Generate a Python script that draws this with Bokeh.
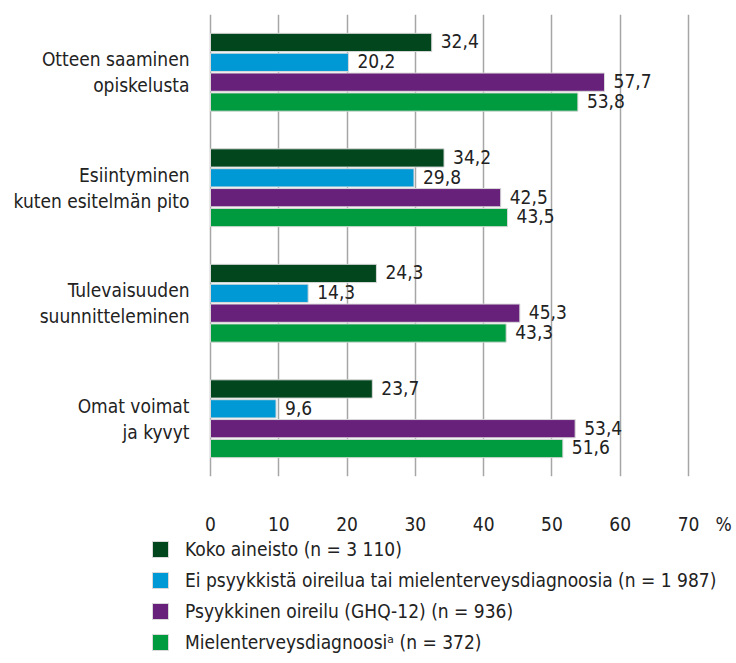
from bokeh.plotting import figure
from bokeh.models import (ColumnDataSource, Legend, LegendItem, FactorRange,
                          FixedTicker, Range1d)
from bokeh.layouts import column
from bokeh.transform import dodge
from bokeh.core.properties import value
from bokeh.embed import file_html
from bokeh.resources import INLINE

categories = ["Otteen saaminen\nopiskelusta",
              "Esiintyminen\nkuten esitelmän pito",
              "Tulevaisuuden\nsuunnitteleminen",
              "Omat voimat\nja kyvyt"]
series_names = ["Koko aineisto (n = 3 110)",
                "Ei psyykkistä oireilua tai mielenterveysdiagnoosia (n = 1 987)",
                "Psyykkinen oireilu (GHQ-12) (n = 936)",
                "Mielenterveysdiagnoosiᵃ (n = 372)"]
koko = [32.4, 34.2, 24.3, 23.7]
ei_oireilua = [20.2, 29.8, 14.3, 9.6]
psyykkinen = [57.7, 42.5, 45.3, 53.4]
diagnoosi = [53.8, 43.5, 43.3, 51.6]
x_ticks = [0, 10, 20, 30, 40, 50, 60, 70]
unit_label = "%"

colors = ["#01461C", "#0099D6", "#67217A", "#009B3F"]
offsets = [0.258, 0.086, -0.086, -0.258]
FONT = "'DejaVu Sans Condensed', 'Liberation Sans Narrow', sans-serif"
TXT = "#222222"

PX = 478 / 70                      # pixels per percent
X_START = -60 / PX                 # frame starts 60 px left of zero (room for legend keys)
X_END = 70 + 48 / PX
UNIT_POS = 70 + 35 / PX

p = figure(width=736, height=537, output_backend="svg", toolbar_location=None,
           y_range=FactorRange(factors=list(reversed(categories)), range_padding=0),
           x_range=Range1d(X_START, X_END),
           min_border_left=150, min_border_right=0, min_border_top=14,
           min_border_bottom=57)
p.outline_line_color = None

for vals, col, off in zip([koko, ei_oireilua, psyykkinen, diagnoosi], colors, offsets):
    src = ColumnDataSource(dict(cat=categories, val=vals,
                                lab=[f"{v:.1f}".replace(".", ",") for v in vals]))
    p.hbar(y=dodge("cat", off, range=p.y_range), right="val", left=0,
           height=0.158, source=src, fill_color=col, line_color="#d9d9d9",
           line_width=1)
    p.text(x="val", y=dodge("cat", off + 0.01, range=p.y_range), text="lab",
           source=src, x_offset=9, text_align="left", text_baseline="middle",
           text_font=value(FONT), text_font_size="19px", text_color=TXT)

p.ygrid.grid_line_color = None
p.xgrid.ticker = FixedTicker(ticks=x_ticks)
p.xgrid.grid_line_color = "#a6a6a6"
p.xgrid.grid_line_width = 1.5

p.xaxis.ticker = FixedTicker(ticks=x_ticks + [UNIT_POS])
p.xaxis.major_label_overrides = {UNIT_POS: unit_label}
p.xaxis.axis_line_color = None
p.xaxis.major_tick_line_color = None
p.xaxis.minor_tick_line_color = None
p.xaxis.major_label_standoff = 30
p.xaxis.major_label_text_font = FONT
p.xaxis.major_label_text_font_size = "19px"
p.xaxis.major_label_text_color = TXT

# y axis sits at the frame edge; its labels are pushed to end 15 px left of zero
p.yaxis.axis_line_color = None
p.yaxis.major_tick_line_color = None
p.yaxis.minor_tick_line_color = None
p.yaxis.major_label_standoff = -45
p.yaxis.major_label_text_font = FONT
p.yaxis.major_label_text_font_size = "19px"
p.yaxis.major_label_text_color = TXT

# legend figure (its frame is aligned with the main frame in the column)
lg = figure(width=736, height=126, output_backend="svg", toolbar_location=None,
            x_range=Range1d(0, 1), y_range=Range1d(0, 1),
            x_axis_location=None, y_axis_location=None,
            min_border=0, min_border_left=0, min_border_right=0,
            min_border_top=0, min_border_bottom=0)
lg.outline_line_color = None
lg.grid.visible = False
items = []
for col, name in zip(colors, series_names):
    r = lg.hbar(y=[0.5], right=[1], left=0, height=1, fill_color=col,
                line_color="#d9d9d9", line_width=1, visible=False)
    items.append(LegendItem(label=name, renderers=[r]))
legend = Legend(items=items, location=(0, 10), orientation="vertical",
                glyph_width=20, glyph_height=20, spacing=9, label_standoff=15,
                padding=0, margin=0, border_line_color=None,
                background_fill_alpha=0, label_text_font=FONT,
                label_text_font_size="19px", label_text_color=TXT,
                label_height=20)
lg.add_layout(legend, "center")

layout = column(p, lg, spacing=0)
open("out.html", "w").write(file_html(layout, INLINE))
